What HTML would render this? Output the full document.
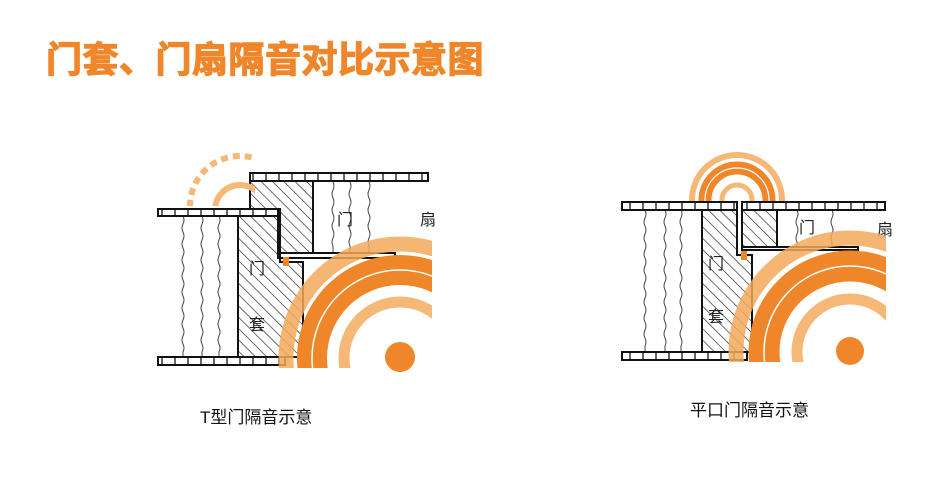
<!DOCTYPE html>
<html><head><meta charset="utf-8"><style>
html,body{margin:0;padding:0;background:#fff;width:943px;height:495px;overflow:hidden}
svg{display:block}
text{font-family:"Liberation Sans","Noto Sans CJK SC",sans-serif}
</style></head><body>
<svg width="943" height="495" viewBox="0 0 943 495" xmlns="http://www.w3.org/2000/svg">
<defs>
<pattern id="hatch" patternUnits="userSpaceOnUse" width="8" height="8" patternTransform="rotate(-45)">
<line x1="0" y1="0" x2="0" y2="8" stroke="#222" stroke-width="1.3"/></pattern>
<pattern id="tick" patternUnits="userSpaceOnUse" width="13" height="20">
<line x1="6" y1="0" x2="6" y2="20" stroke="#222" stroke-width="1.4"/></pattern>
<clipPath id="cL"><rect x="0" y="0" width="432" height="368"/></clipPath>
<clipPath id="cR"><rect x="0" y="0" width="886" height="362"/></clipPath>
<clipPath id="cT"><rect x="600" y="0" width="300" height="201"/></clipPath>
<clipPath id="cD"><rect x="0" y="0" width="255" height="206"/></clipPath>
</defs>

<text x="46" y="72" font-size="36" font-weight="bold" fill="#f0862a" stroke="#f0862a" stroke-width="1.2" letter-spacing="0.5">门套、门扇隔音对比示意图</text>

<g fill="none" stroke="#444" stroke-width="1">
<path d="M183,216 q2,4 0,8 t0,8 t0,8 t0,8 t0,8 t0,8 t0,8 t0,8 t0,8 t0,8 t0,8 t0,8 t0,8 t0,8 t0,8 t0,8 t0,8 l0,5"/>
<path d="M202,216 q2,4 0,8 t0,8 t0,8 t0,8 t0,8 t0,8 t0,8 t0,8 t0,8 t0,8 t0,8 t0,8 t0,8 t0,8 t0,8 t0,8 t0,8 l0,5"/>
<path d="M219,216 q2,4 0,8 t0,8 t0,8 t0,8 t0,8 t0,8 t0,8 t0,8 t0,8 t0,8 t0,8 t0,8 t0,8 t0,8 t0,8 t0,8 t0,8 l0,5"/>
<path d="M333,182 q2,4 0,8 t0,8 t0,8 t0,8 t0,8 t0,8 t0,8 t0,8 l0,7"/>
<path d="M350,182 q2,4 0,8 t0,8 t0,8 t0,8 t0,8 t0,8 t0,8 t0,8 l0,7"/>
<path d="M369,182 q2,4 0,8 t0,8 t0,8 t0,8 t0,8 t0,8 t0,8 t0,8 l0,7"/>
<path d="M645,210 q2,4 0,8 t0,8 t0,8 t0,8 t0,8 t0,8 t0,8 t0,8 t0,8 t0,8 t0,8 t0,8 t0,8 t0,8 t0,8 t0,8 t0,8 l0,6"/>
<path d="M665,210 q2,4 0,8 t0,8 t0,8 t0,8 t0,8 t0,8 t0,8 t0,8 t0,8 t0,8 t0,8 t0,8 t0,8 t0,8 t0,8 t0,8 t0,8 l0,6"/>
<path d="M681,210 q2,4 0,8 t0,8 t0,8 t0,8 t0,8 t0,8 t0,8 t0,8 t0,8 t0,8 t0,8 t0,8 t0,8 t0,8 t0,8 t0,8 t0,8 l0,6"/>
<path d="M797,210 q2,4 0,8 t0,8 t0,8 t0,8 l0,5"/>
<path d="M832,210 q2,4 0,8 t0,8 t0,8 t0,8 l0,5"/>
</g>

<g stroke="#111" stroke-width="2">
<rect x="158" y="209" width="122" height="7" fill="url(#tick)"/>
<rect x="158" y="357" width="127" height="8" fill="url(#tick)"/>
<rect x="250" y="173" width="178" height="8" fill="url(#tick)"/>
<rect x="278" y="253" width="117" height="5" fill="#fff"/>
<polygon points="238,216 280,216 280,262 303,262 303,357 238,357" fill="url(#hatch)"/>
<polygon points="250,181 313,181 313,253 278,253 278,209 250,209" fill="url(#hatch)"/>
<rect x="622" y="202" width="115" height="8" fill="url(#tick)"/>
<rect x="742" y="202" width="143" height="8" fill="url(#tick)"/>
<rect x="622" y="352" width="125" height="8" fill="url(#tick)"/>
<rect x="742" y="247" width="116" height="3" fill="#fff"/>
<polygon points="702,210 737,210 737,255 752,255 752,352 702,352" fill="url(#hatch)"/>
<rect x="742" y="210" width="35" height="37" fill="url(#hatch)"/>
<line x1="742" y1="210" x2="742" y2="250"/>
</g>

<g font-size="16" fill="#222">
<text x="249" y="274">门</text><text x="249" y="330">套</text>
<text x="337" y="225">门</text><text x="420" y="225">扇</text>
<text x="708" y="269">门</text><text x="708" y="322">套</text>
<text x="799" y="233">门</text><text x="877" y="235">扇</text>
</g>

<rect x="283" y="257" width="6" height="9" fill="#f0862a"/>
<rect x="741" y="251" width="6" height="9" fill="#f0862a"/>

<g clip-path="url(#cL)" fill="none">
<circle cx="400" cy="358" r="114" stroke="#f3a95c" stroke-opacity="0.85" stroke-width="15"/>
<circle cx="400" cy="358" r="88" stroke="#f0862a" stroke-width="30"/>
<circle cx="400" cy="358" r="88" stroke="#fff" stroke-width="1.5"/>
<circle cx="400" cy="358" r="56" stroke="#f5b877" stroke-width="11"/>
</g>
<circle cx="400" cy="357" r="15" fill="#f0862a"/>
<g clip-path="url(#cD)" fill="none" stroke="#f5b877" stroke-width="6">
<circle cx="240" cy="206" r="50" stroke-dasharray="7 5"/>
<circle cx="240" cy="210" r="25"/>
</g>

<g clip-path="url(#cR)" fill="none">
<circle cx="850" cy="352" r="114" stroke="#f3a95c" stroke-opacity="0.85" stroke-width="15"/>
<circle cx="850" cy="352" r="86" stroke="#f0862a" stroke-width="31"/>
<circle cx="850" cy="352" r="86" stroke="#fff" stroke-width="1.5"/>
<circle cx="850" cy="352" r="53" stroke="#f5b877" stroke-width="11"/>
</g>
<circle cx="850" cy="351" r="14" fill="#f0862a"/>
<g clip-path="url(#cT)" fill="none">
<circle cx="737" cy="200" r="45" stroke="#f5b877" stroke-width="6"/>
<circle cx="737" cy="200" r="32" stroke="#f0862a" stroke-width="13"/>
<circle cx="737" cy="200" r="32" stroke="#fff" stroke-width="1.2"/>
<circle cx="737" cy="200" r="15" stroke="#f5b877" stroke-width="5"/>
</g>

<text x="200" y="423" font-size="17" fill="#111">T型门隔音示意</text>
<text x="690" y="416" font-size="17" fill="#111">平口门隔音示意</text>
</svg>
</body></html>
